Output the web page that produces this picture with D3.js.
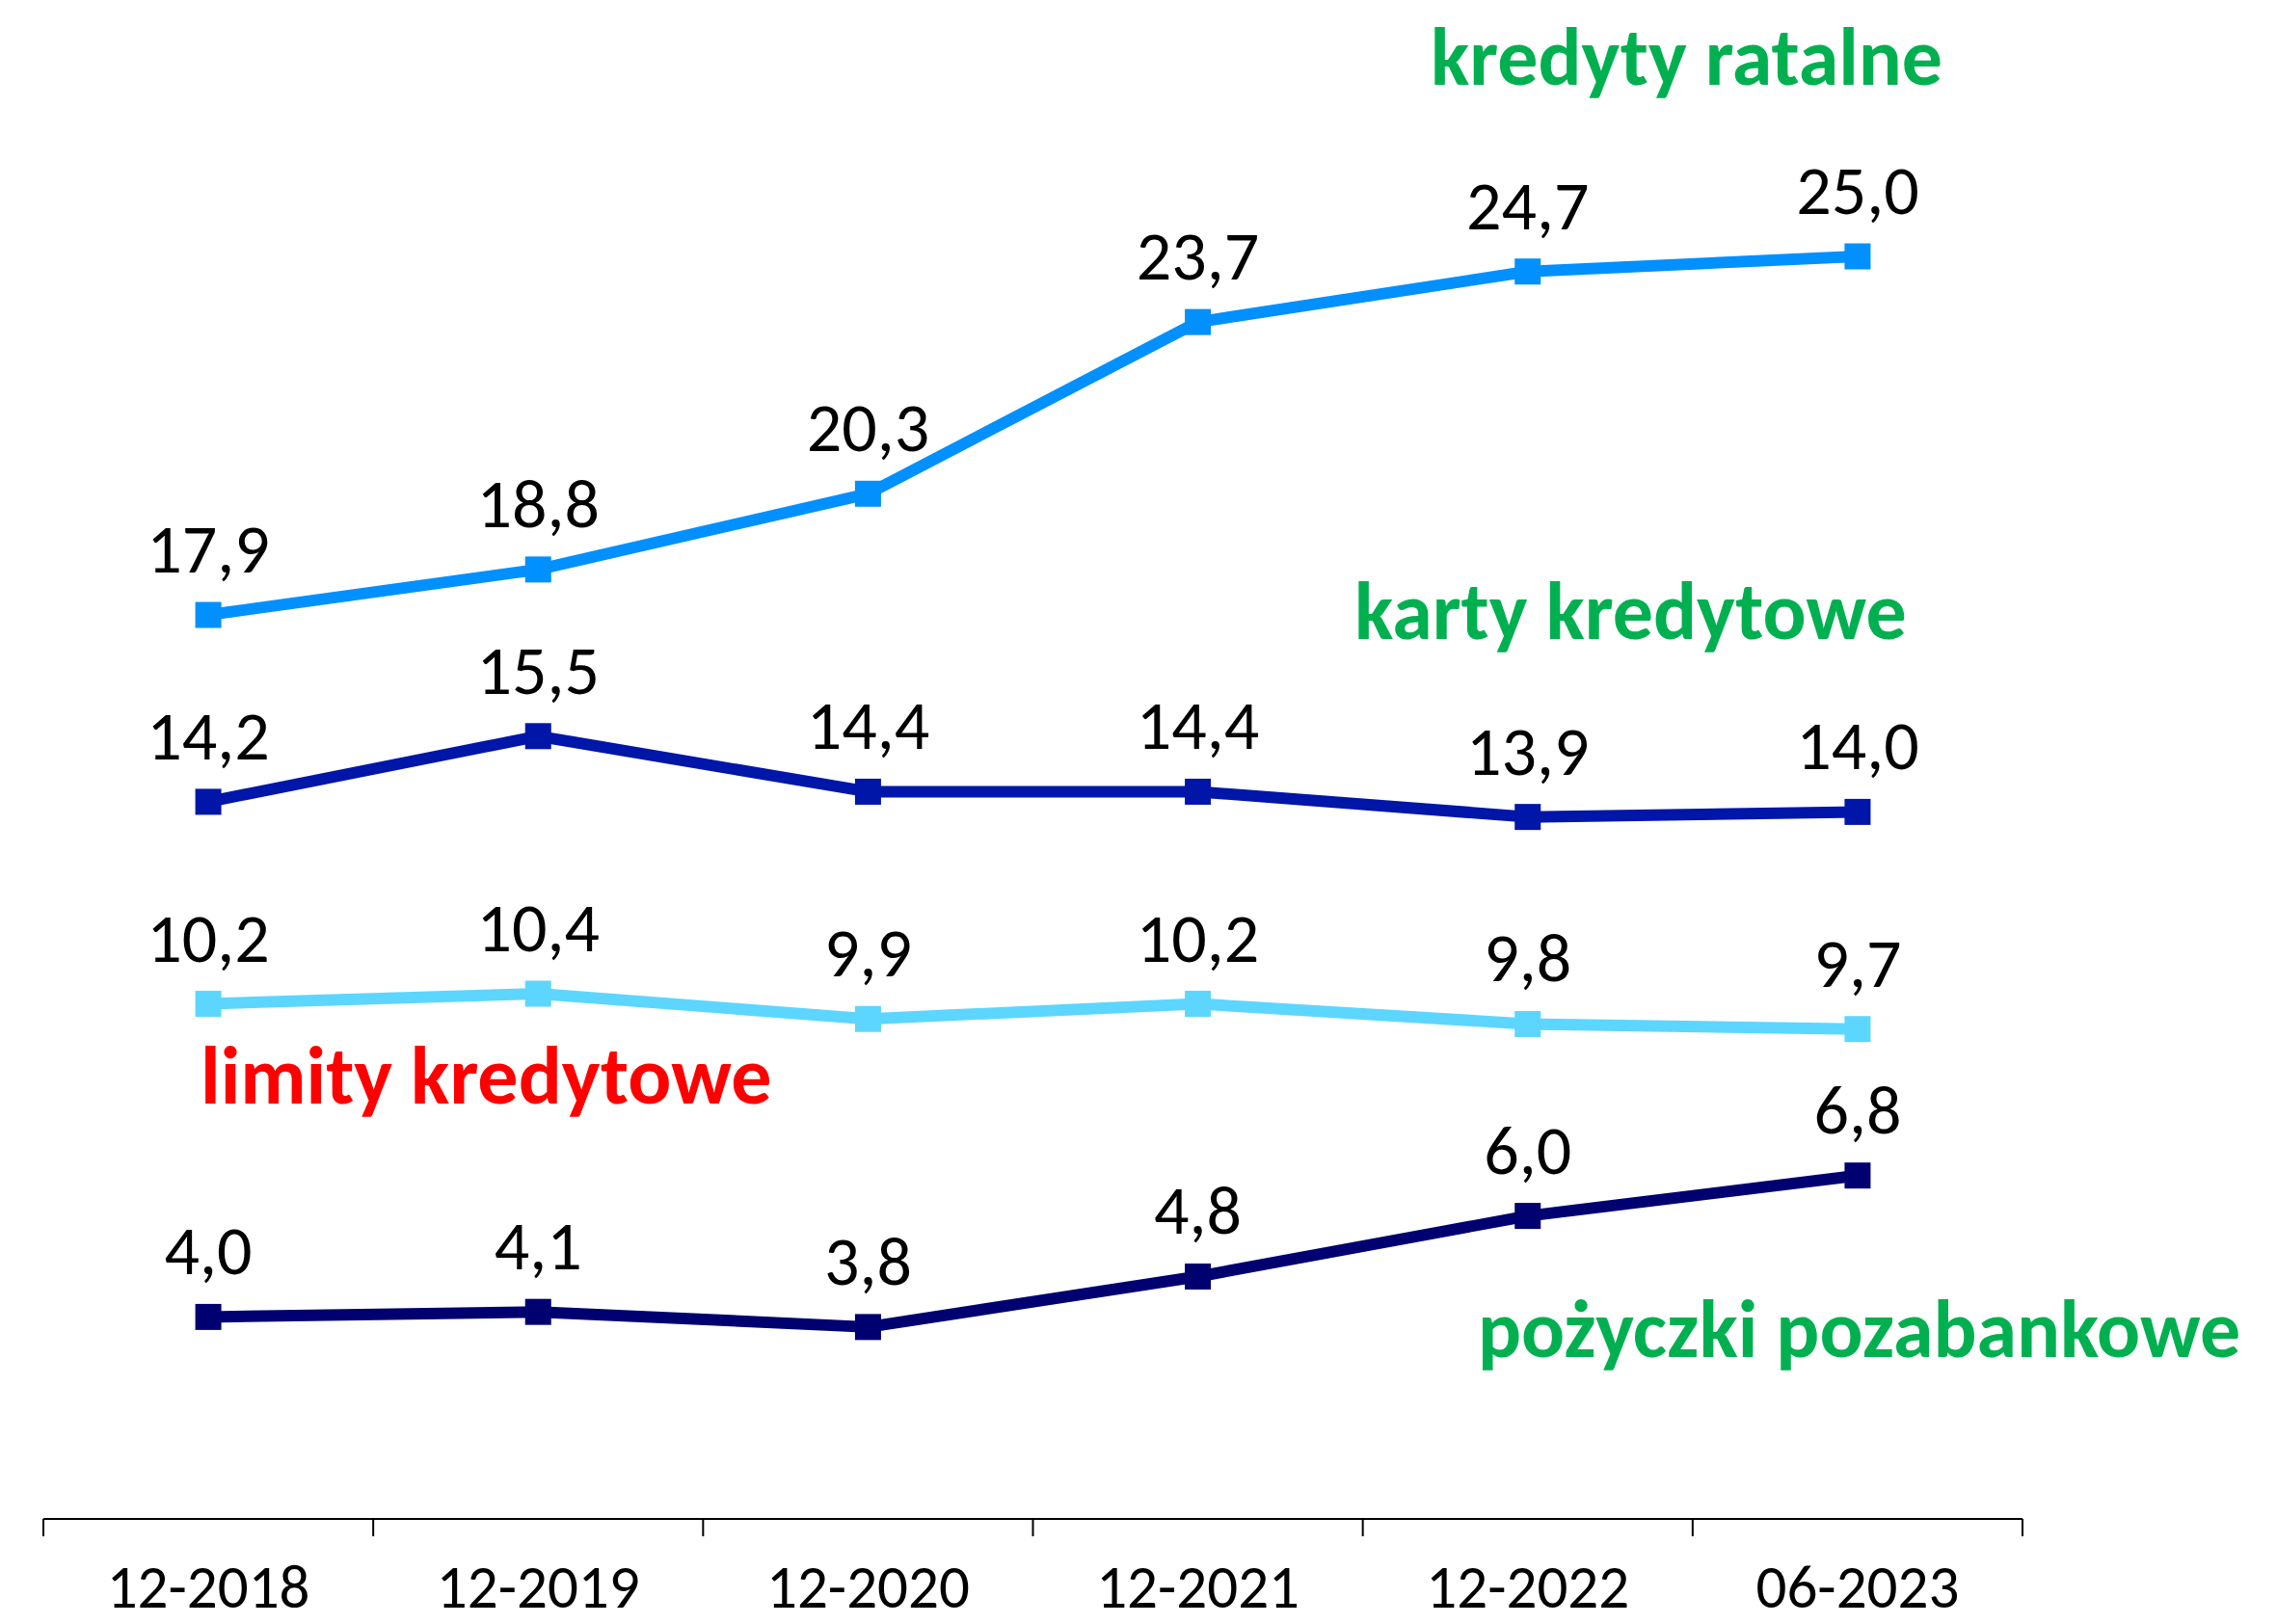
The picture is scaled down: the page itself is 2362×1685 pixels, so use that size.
<!DOCTYPE html>
<html>
<head>
<meta charset="utf-8">
<script src="https://cdn.jsdelivr.net/npm/d3@7"></script>
<style>
  body { margin: 0; background: #fff; }
</style>
</head>
<body>
<script>
// Data
const categories = ["12-2018", "12-2019", "12-2020", "12-2021", "12-2022", "06-2023"];
const kredytyRatalne = [17.9, 18.8, 20.3, 23.7, 24.7, 25.0];
const kartyKredytowe = [14.2, 15.5, 14.4, 14.4, 13.9, 14.0];
const limityKredytowe = [10.2, 10.4, 9.9, 10.2, 9.8, 9.7];
const pozyczkiPozabankowe = [4.0, 4.1, 3.8, 4.8, 6.0, 6.8];

const series = [
  { name: "kredyty ratalne", values: kredytyRatalne, color: "#0090FF" },
  { name: "karty kredytowe", values: kartyKredytowe, color: "#0016A8" },
  { name: "limity kredytowe", values: limityKredytowe, color: "#5CD6FF" },
  { name: "pożyczki pozabankowe", values: pozyczkiPozabankowe, color: "#000070" }
];

// Series name labels placed like the original chart
const seriesLabels = [
  { text: "kredyty ratalne", x: 1484, y: 88, color: "#00B050" },
  { text: "karty kredytowe", x: 1405, y: 663, color: "#00B050" },
  { text: "limity kredytowe", x: 208, y: 1145, color: "#FF0000" },
  { text: "pożyczki pozabankowe", x: 1533, y: 1408, color: "#00B050" }
];

const width = 2362;
const height = 1685;
const marginLeft = 45;
const marginRight = 264;
const axisY = 1576;
const font = "Carlito, Calibri, Lato, 'Open Sans', sans-serif";

const x = d3.scaleBand()
  .domain(categories)
  .range([marginLeft, width - marginRight]);

const y = d3.scaleLinear()
  .domain([0, 30])
  .range([axisY, 4]);

const fmt = v => d3.format(".1f")(v).replace(".", ",");

const svg = d3.select("body")
  .append("svg")
  .attr("width", width)
  .attr("height", height)
  .attr("viewBox", [0, 0, width, height])
  .style("font-family", font);

// x axis: line, ticks at band edges, labels
const xAxis = svg.append("g")
  .attr("transform", `translate(0,${axisY})`)
  .call(d3.axisBottom(x).tickSize(0).tickPadding(47));

xAxis.select(".domain")
  .attr("stroke", "#000")
  .attr("stroke-width", 2)
  .attr("d", `M${marginLeft},0H${width - marginRight}`);

xAxis.selectAll(".tick text")
  .attr("fill", "#000")
  .style("font-family", font)
  .style("font-size", "63px");

const edges = categories.map(c => x(c)).concat([x.range()[1]]);
xAxis.selectAll(".edge")
  .data(edges)
  .join("line")
  .attr("class", "edge")
  .attr("x1", d => d)
  .attr("x2", d => d)
  .attr("y1", 0)
  .attr("y2", 18)
  .attr("stroke", "#000")
  .attr("stroke-width", 2);

const cx = c => x(c) + x.bandwidth() / 2;

const line = d3.line()
  .x((d, i) => cx(categories[i]))
  .y(d => y(d));

const markerSize = 27;

series.forEach(s => {
  const g = svg.append("g");

  g.append("path")
    .attr("fill", "none")
    .attr("stroke", s.color)
    .attr("stroke-width", 12)
    .attr("stroke-linejoin", "round")
    .attr("d", line(s.values));

  g.selectAll("rect")
    .data(s.values)
    .join("rect")
    .attr("x", (d, i) => cx(categories[i]) - markerSize / 2)
    .attr("y", d => y(d) - markerSize / 2)
    .attr("width", markerSize)
    .attr("height", markerSize)
    .attr("fill", s.color);

  g.selectAll("text")
    .data(s.values)
    .join("text")
    .attr("x", (d, i) => cx(categories[i]))
    .attr("y", d => y(d) - 44)
    .attr("text-anchor", "middle")
    .attr("fill", "#000")
    .style("font-size", "72px")
    .text(d => fmt(d));
});

// series names
svg.selectAll(".series-label")
  .data(seriesLabels)
  .join("text")
  .attr("class", "series-label")
  .attr("x", d => d.x)
  .attr("y", d => d.y)
  .attr("fill", d => d.color)
  .style("font-size", "84px")
  .style("font-weight", "bold")
  .text(d => d.text);
</script>
</body>
</html>
